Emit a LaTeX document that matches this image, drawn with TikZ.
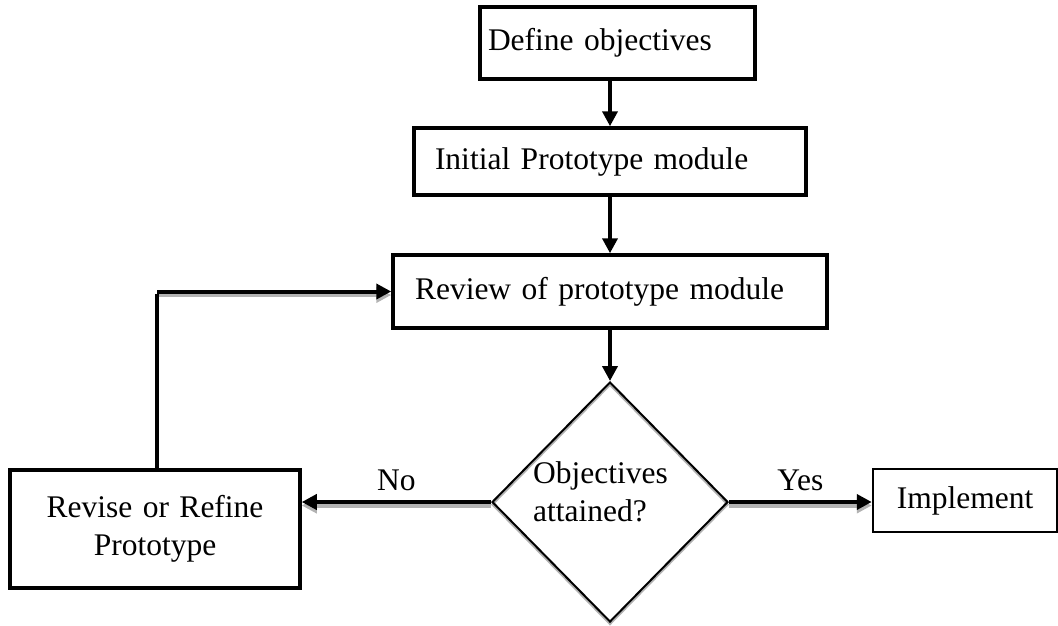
\documentclass[tikz,border=0pt]{standalone}
\usepackage{fontspec}
\setmainfont{Liberation Serif}
\usetikzlibrary{arrows.meta,shapes.geometric}

\tikzset{
  box/.style={draw, line width=3.5pt, inner ysep=0pt, font=\fontsize{31.5}{38}\selectfont},
  flow/.style={line width=4pt, -{Triangle[length=15pt,width=15pt]}},
  shade/.style={flow, draw=black!30},
  lbl/.style={font=\fontsize{31.5}{38}\selectfont, inner sep=0pt}
}

\begin{document}
\begin{tikzpicture}[x=1pt, y=-1pt]
  \path[use as bounding box] (0,0) rectangle (1058,625);

  % process boxes
  \node[box, minimum height=72pt, text width=259pt, inner xsep=8pt, align=left]
    (def) at (617.5,43) {Define objectives};
  \node[box, minimum height=67pt, text width=350pt, inner xsep=21pt, align=left]
    (init) at (610,161.5) {Initial Prototype module};
  \node[box, minimum height=73pt, text width=390pt, inner xsep=22pt, align=left]
    (rev) at (610,291.5) {Review of prototype module};
  \node[box, minimum height=118pt, text width=270pt, inner xsep=10pt, align=center]
    (refine) at (155,529) {Revise or Refine\\Prototype};
  \node[box, line width=2.5pt, minimum width=184pt, minimum height=63pt, inner xsep=0pt]
    (impl) at (965,500.5) {Implement};

  % decision diamond with its grey shadow
  \node[diamond, draw=black!30, line width=2pt, inner sep=0pt, minimum width=236pt,
        minimum height=240pt] (dshadow) at (610,504.5) {};
  \node[diamond, draw, line width=2pt, inner sep=0pt, minimum width=236pt,
        minimum height=240pt] (dec) at (610,502) {};
  \node[lbl, anchor=west, align=left] (q) at (533,492) {Objectives\\attained?};

  % straight flow down the middle
  \draw[flow] (init.north |- def.south) -- (init.north);
  \draw[flow] (init.south) -- (rev.north);
  \draw[flow] (rev.south) -- (dec.north);

  % decision outcomes, each with a grey shadow stroke
  \draw[shade, transform canvas={yshift=-3.5pt}] (dec.west) -- (dec.west -| refine.east);
  \draw[flow] (dec.west) -- node[lbl, above=9pt] (no) {No} (dec.west -| refine.east);
  \draw[shade, transform canvas={yshift=-3.5pt}] (dec.east) -- (dec.east -| impl.west);
  \draw[flow] (dec.east) -- node[lbl, above=9pt] (yes) {Yes} (dec.east -| impl.west);

  % loop back to the review step
  \coordinate (turn) at ([xshift=2pt]refine.north |- rev.west);
  \draw[shade, transform canvas={yshift=-3.5pt}] ([xshift=2pt]turn) -- (rev.west);
  \draw[line width=4.5pt] ([xshift=2pt]refine.north) -- ([yshift=-2.25pt]turn);
  \draw[flow] (turn) -- (rev.west);
\end{tikzpicture}
\end{document}
